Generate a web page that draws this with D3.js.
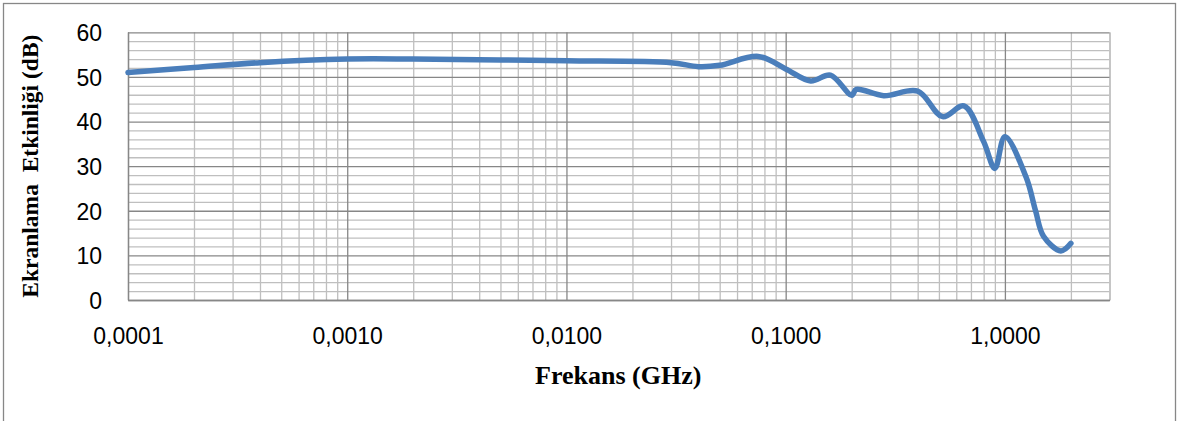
<!DOCTYPE html>
<html>
<head>
<meta charset="utf-8">
<script src="https://cdn.jsdelivr.net/npm/d3@7/dist/d3.min.js"></script>
<style>
  html, body { margin: 0; padding: 0; background: #fff; }
  svg { display: block; }
</style>
</head>
<body>
<svg id="chart" width="1180" height="421"></svg>
<script>
// ---- data ----
const frequencies = [0.0001, 0.0002, 0.0004, 0.001, 0.002, 0.005, 0.01, 0.03, 0.04, 0.05, 0.075, 0.1, 0.13, 0.16, 0.2, 0.21, 0.28, 0.4, 0.52, 0.65, 0.8, 0.9, 1.0, 1.25, 1.38, 1.5, 1.8, 2.0];
const shieldingDb = [51.0, 52.1, 53.2, 54.0, 54.0, 53.8, 53.6, 53.2, 52.3, 52.6, 54.6, 51.8, 49.1, 50.4, 45.9, 47.2, 45.8, 46.8, 41.1, 43.5, 35.5, 29.5, 36.6, 27.5, 20.0, 14.3, 11.0, 12.7];
const xTickValues = [0.0001, 0.001, 0.01, 0.1, 1];
const xTickLabels = ["0,0001", "0,0010", "0,0100", "0,1000", "1,0000"];
const yTickValues = [0, 10, 20, 30, 40, 50, 60];
const yTickLabels = ["0", "10", "20", "30", "40", "50", "60"];
const xTitle = "Frekans (GHz)";
const yTitle = "Ekranlama  Etkinliği (dB)";

// ---- layout ----
const plot = { left: 128, right: 1109.5, top: 32.3, bottom: 300 };
const svg = d3.select("#chart");

// outer chart border
svg.append("rect")
  .attr("x", 3.5).attr("y", 3.5)
  .attr("width", 1172).attr("height", 440)
  .attr("fill", "#fff").attr("stroke", "#878787").attr("stroke-width", 1.3);

const x = d3.scaleLog().domain([0.0001, 3]).range([plot.left, plot.right]);
const y = d3.scaleLinear().domain([0, 60]).range([plot.bottom, plot.top]);
const H = plot.bottom - plot.top, W = plot.right - plot.left;

// minor grid values
const xMinor = [];
for (let e = -4; e <= 0; e++) {
  for (let k = 2; k <= 9; k++) {
    const v = k * Math.pow(10, e);
    if (v <= 3.0001) xMinor.push(v);
  }
}
const yMinor = d3.range(0, 61, 2).filter(v => v % 10 !== 0);

function gridAxis(gen, values, size) {
  return gen.tickValues(values).tickSize(size).tickFormat("");
}

// minor vertical grid
svg.append("g").attr("transform", `translate(0,${plot.bottom})`)
  .call(gridAxis(d3.axisBottom(x), xMinor, -H))
  .call(g => g.select(".domain").remove())
  .call(g => g.selectAll("line").attr("stroke", "#bfbfbf").attr("stroke-width", 1.3));
// minor horizontal grid
svg.append("g").attr("transform", `translate(${plot.left},0)`)
  .call(gridAxis(d3.axisLeft(y), yMinor, -W))
  .call(g => g.select(".domain").remove())
  .call(g => g.selectAll("line").attr("stroke", "#bfbfbf").attr("stroke-width", 1.3));
// right/top plot edges
svg.append("g").attr("transform", `translate(${plot.right},0)`)
  .call(d3.axisRight(y).tickValues([]).tickSizeOuter(0))
  .call(g => g.select(".domain").attr("stroke", "#bfbfbf").attr("stroke-width", 1.3));
// major vertical grid
svg.append("g").attr("transform", `translate(0,${plot.bottom})`)
  .call(gridAxis(d3.axisBottom(x), xTickValues, -H))
  .call(g => g.select(".domain").remove())
  .call(g => g.selectAll("line").attr("stroke", "#878787").attr("stroke-width", 1.3));
// major horizontal grid
svg.append("g").attr("transform", `translate(${plot.left},0)`)
  .call(gridAxis(d3.axisLeft(y), yTickValues, -W))
  .call(g => g.select(".domain").remove())
  .call(g => g.selectAll("line").attr("stroke", "#878787").attr("stroke-width", 1.3));

// axes with labels
const xAxis = svg.append("g").attr("transform", `translate(0,${plot.bottom})`)
  .call(d3.axisBottom(x).tickValues(xTickValues).tickSize(0).tickSizeOuter(0)
    .tickFormat((d, i) => xTickLabels[i]));
xAxis.select(".domain").attr("stroke", "#878787").attr("stroke-width", 1.3);
xAxis.selectAll("text")
  .attr("y", 44).attr("dy", 0)
  .attr("font-family", "'Liberation Sans', Arial, sans-serif")
  .attr("font-size", 23).attr("fill", "#000");

const yAxis = svg.append("g").attr("transform", `translate(${plot.left},0)`)
  .call(d3.axisLeft(y).tickValues(yTickValues).tickSize(0).tickSizeOuter(0)
    .tickFormat((d, i) => yTickLabels[i]));
yAxis.select(".domain").attr("stroke", "#878787").attr("stroke-width", 1.3);
yAxis.selectAll("text")
  .attr("x", -26).attr("dy", "0.36em")
  .attr("font-family", "'Liberation Sans', Arial, sans-serif")
  .attr("font-size", 23).attr("fill", "#000");

// data line
const line = d3.line()
  .x((d, i) => x(frequencies[i]))
  .y(d => y(d))
  .curve(d3.curveCatmullRom.alpha(0.5));
svg.append("path")
  .datum(shieldingDb)
  .attr("d", line)
  .attr("fill", "none")
  .attr("stroke", "#4a7ebb")
  .attr("stroke-width", 5.5)
  .attr("stroke-linejoin", "round")
  .attr("stroke-linecap", "round");

// titles
svg.append("text")
  .attr("x", (plot.left + plot.right) / 2 - 0.5).attr("y", 384)
  .attr("text-anchor", "middle")
  .attr("font-family", "'Liberation Serif', 'Times New Roman', serif")
  .attr("font-weight", "bold").attr("font-size", 26).attr("fill", "#000")
  .text(xTitle);

svg.append("text")
  .attr("transform", `translate(38,${(plot.top + plot.bottom) / 2}) rotate(-90)`)
  .attr("text-anchor", "middle")
  .style("white-space", "pre")
  .attr("font-family", "'Liberation Serif', 'Times New Roman', serif")
  .attr("font-weight", "bold").attr("font-size", 23.5).attr("fill", "#000")
  .text(yTitle);
</script>
</body>
</html>
